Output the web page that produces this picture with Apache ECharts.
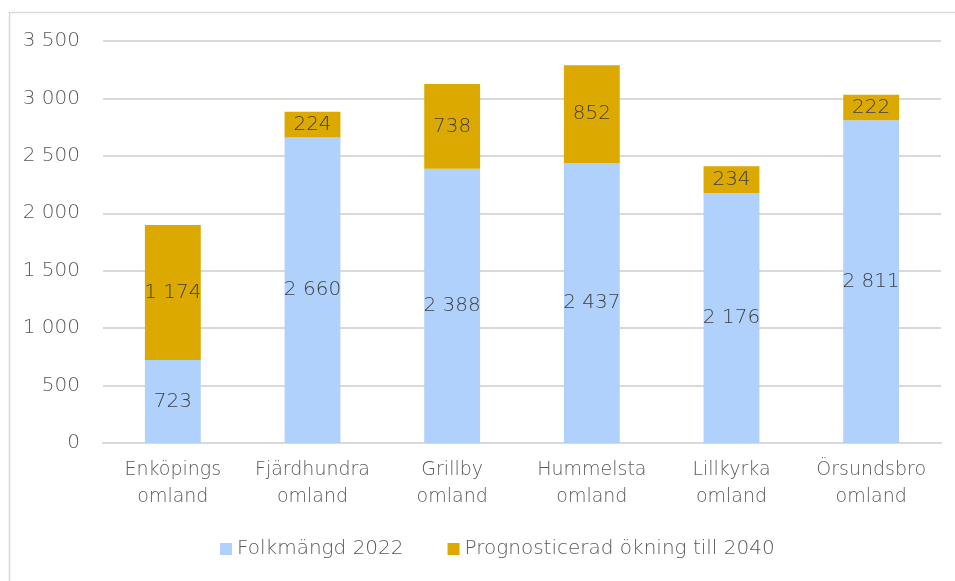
<!DOCTYPE html>
<html>
<head lang="sv">
    <meta charset="UTF-8">
    <title>Folkmängd</title>
    <style>
        html, body { margin: 0; padding: 0; background: #fff; }
    </style>
</head>
<body>
<div id="chart" style="width: 955px;height: 581px;"></div>
<script src="https://cdn.jsdelivr.net/npm/echarts@6/dist/echarts.min.js"></script>
<script>
// omraden och varden
var categories = ['Enköpings\nomland', 'Fjärdhundra\nomland', 'Grillby\nomland', 'Hummelsta\nomland', 'Lillkyrka\nomland', 'Örsundsbro\nomland'];
var folkmangd2022 = [723, 2660, 2388, 2437, 2176, 2811];
var okning2040 = [1174, 224, 738, 852, 234, 222];
var seriesNames = ['Folkmängd 2022', 'Prognosticerad ökning till 2040'];

var FONT = '"DejaVu Sans", sans-serif';
var WEIGHT = 200;

// tusental med mellanslag
function fmt(v) {
    return String(v).replace(/\B(?=(\d{3})+(?!\d))/g, ' ');
}

var chart = echarts.init(document.getElementById('chart'));

var option = {
    animation: false,
    textStyle: { fontFamily: FONT, fontWeight: WEIGHT },
    graphic: [
        {
            type: 'rect',
            shape: { x: 9.5, y: 12.5, width: 1000, height: 1000 },
            style: { fill: 'none', stroke: '#d9d9d9', lineWidth: 1.5 },
            silent: true
        }
    ],
    grid: { left: 103, right: 14, top: 41, bottom: 138 },
    legend: {
        bottom: 17,
        left: 215,
        itemWidth: 12,
        itemHeight: 12,
        itemGap: 44,
        icon: 'rect',
        textStyle: { color: '#595959', fontSize: 20, fontFamily: FONT, fontWeight: WEIGHT },
        data: seriesNames
    },
    xAxis: {
        type: 'category',
        data: categories,
        axisTick: { show: false },
        axisLine: { lineStyle: { color: '#d9d9d9', width: 2 } },
        axisLabel: {
            interval: 0,
            color: '#595959',
            fontSize: 19,
            lineHeight: 27,
            margin: 14,
            fontFamily: FONT,
            fontWeight: WEIGHT
        }
    },
    yAxis: {
        type: 'value',
        min: 0,
        max: 3500,
        interval: 500,
        axisLine: { show: false },
        axisTick: { show: false },
        splitLine: { lineStyle: { color: '#d9d9d9', width: 2 } },
        axisLabel: {
            color: '#595959',
            fontSize: 20,
            margin: 23,
            fontFamily: FONT,
            fontWeight: WEIGHT,
            formatter: fmt
        }
    },
    series: [
        {
            name: seriesNames[0],
            type: 'bar',
            stack: 'total',
            barWidth: '40%',
            data: folkmangd2022,
            itemStyle: { color: '#afd1fc' },
            label: {
                show: true,
                position: 'inside',
                color: '#404040',
                fontSize: 20,
                fontFamily: FONT,
                fontWeight: WEIGHT,
                formatter: function (p) { return fmt(p.value); }
            }
        },
        {
            name: seriesNames[1],
            type: 'bar',
            stack: 'total',
            barWidth: '40%',
            data: okning2040,
            itemStyle: { color: '#dba900' },
            label: {
                show: true,
                position: 'inside',
                color: '#404040',
                fontSize: 20,
                fontFamily: FONT,
                fontWeight: WEIGHT,
                formatter: function (p) { return fmt(p.value); }
            }
        }
    ]
};

chart.setOption(option);
</script>
</body>
</html>
